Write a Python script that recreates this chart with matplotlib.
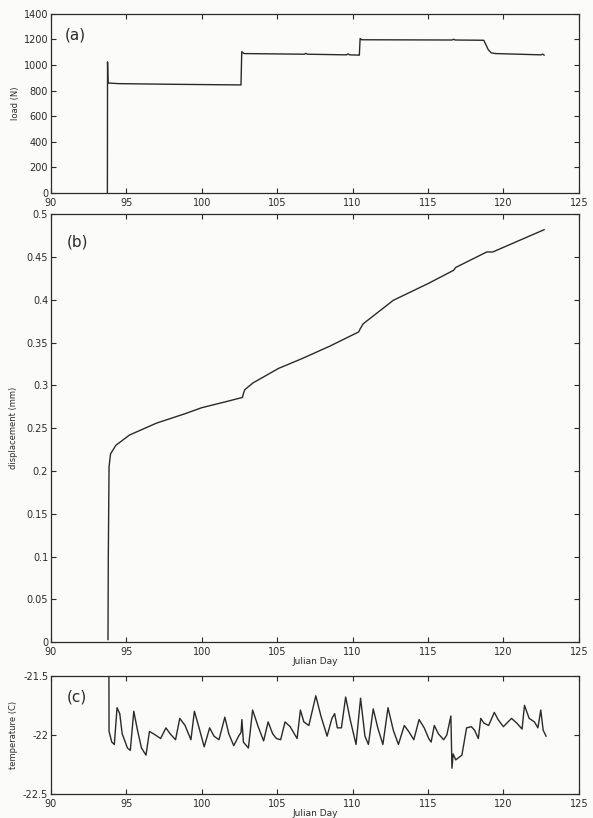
import matplotlib
matplotlib.use("Agg")
import matplotlib.pyplot as plt
from matplotlib.ticker import FuncFormatter

# (a) load
load_day = [93.74, 93.75, 93.78, 94.5, 98.0, 102.55, 102.6, 102.65, 102.8, 106.8, 106.9, 107.0,
            109.6, 109.7, 109.8, 110.4, 110.45, 110.5, 110.6, 116.6, 116.7, 116.8, 118.7,
            119.0, 119.2, 119.5, 122.5, 122.6, 122.7]
load_n = [0, 1025, 860, 855, 850, 845, 845, 1105, 1090, 1085, 1092, 1085,
          1080, 1088, 1080, 1078, 1078, 1208, 1198, 1196, 1202, 1196, 1194,
          1120, 1095, 1090, 1080, 1086, 1078]

# (b) displacement
disp_day = [93.78, 93.8, 93.85, 93.95, 94.3, 95.2, 97.0, 98.9, 100.0, 101.6, 102.7, 102.75,
            102.85, 103.4, 105.1, 106.6, 108.5, 110.4, 110.5, 110.7, 112.7, 115.0, 116.7,
            116.85, 118.9, 119.3, 122.7]
disp_mm = [0.003, 0.1, 0.205, 0.22, 0.230, 0.242, 0.256, 0.267, 0.274, 0.281, 0.286, 0.29,
           0.295, 0.303, 0.320, 0.331, 0.346, 0.3625, 0.366, 0.372, 0.3995, 0.419, 0.4346,
           0.438, 0.456, 0.456, 0.482]

# (c) temperature
temp_day = [93.84, 93.85, 94.03, 94.2, 94.38, 94.56, 94.72, 95.07, 95.26, 95.49, 95.72, 96.0,
            96.3, 96.53, 96.92, 97.27, 97.62, 97.9, 98.26, 98.54, 98.89, 99.28, 99.51, 99.82,
            100.16, 100.52, 100.81, 101.14, 101.53, 101.79, 102.12, 102.44, 102.6, 102.66,
            102.76, 103.09, 103.37, 103.74, 104.1, 104.4, 104.7, 104.95, 105.23, 105.52,
            105.86, 106.32, 106.54, 106.77, 107.1, 107.56, 107.9, 108.31, 108.63, 108.81,
            108.99, 109.26, 109.54, 109.84, 110.23, 110.53, 110.82, 111.05, 111.37, 111.67,
            112.01, 112.35, 112.7, 113.04, 113.43, 113.72, 114.06, 114.41, 114.75, 115.05,
            115.21, 115.42, 115.69, 116.04, 116.25, 116.52, 116.59, 116.67, 116.84, 117.25,
            117.56, 117.88, 118.09, 118.34, 118.5, 118.71, 119.02, 119.4, 119.65, 120.0,
            120.54, 120.89, 121.24, 121.4, 121.71, 122.06, 122.29, 122.48, 122.64, 122.83]
temp_c = [-21.4, -21.97, -22.06, -22.08, -21.77, -21.82, -21.99, -22.11, -22.13, -21.80, -21.95, -22.11,
          -22.17, -21.97, -22.0, -22.03, -21.94, -21.99, -22.04, -21.86, -21.92, -22.04, -21.80, -21.94,
          -22.10, -21.94, -22.01, -22.04, -21.85, -21.99, -22.09, -22.01, -21.98, -21.87,
          -22.06, -22.11, -21.79, -21.93, -22.05, -21.89, -21.99, -22.03, -22.04, -21.89,
          -21.93, -22.03, -21.79, -21.89, -21.92, -21.67, -21.84, -22.01, -21.86, -21.82,
          -21.94, -21.94, -21.68, -21.87, -22.08, -21.69, -22.01, -22.08, -21.78, -21.94,
          -22.08, -21.77, -21.96, -22.08, -21.92, -21.97, -22.04, -21.87, -21.94, -22.03,
          -22.06, -21.92, -21.99, -22.04, -22.0, -21.84, -22.28, -22.16, -22.21, -22.17,
          -21.94, -21.93, -21.96, -22.03, -21.86, -21.9, -21.92, -21.81, -21.87, -21.93,
          -21.86, -21.9, -21.95, -21.75, -21.86, -21.89, -21.94, -21.79, -21.96, -22.01]

xticks = [90, 95, 100, 105, 110, 115, 120, 125]
bg = "#fbfbfa"
ink = "#2a2a2a"

fig = plt.figure(figsize=(5.93, 8.18), dpi=100, facecolor=bg)
ax_a = fig.add_axes([0.086, 0.764, 0.890, 0.219])
ax_b = fig.add_axes([0.086, 0.215, 0.890, 0.523])
ax_c = fig.add_axes([0.086, 0.029, 0.890, 0.145])

fmt = FuncFormatter(lambda v, p: "%g" % v)

def style(ax):
    ax.set_facecolor(bg)
    ax.set_xlim(90, 125)
    ax.set_xticks(xticks)
    ax.xaxis.set_major_formatter(fmt)
    ax.yaxis.set_major_formatter(fmt)
    ax.tick_params(direction="in", top=True, right=True, length=3.5, width=0.8,
                   labelsize=7, colors=ink, pad=2)
    ax.tick_params(axis="x", pad=3.5)
    for s in ax.spines.values():
        s.set_color(ink)
        s.set_linewidth(0.9)

ax_a.plot(load_day, load_n, color=ink, lw=1.0)
style(ax_a)
ax_a.set_ylim(0, 1400)
ax_a.set_yticks(range(0, 1401, 200))
ax_a.set_ylabel("load (N)", fontsize=6, color=ink)
ax_a.yaxis.set_label_coords(-0.058, 0.5)
ax_a.text(0.027, 0.88, "(a)", transform=ax_a.transAxes, fontsize=11, color=ink, va="center")

ax_b.plot(disp_day, disp_mm, color=ink, lw=1.0)
style(ax_b)
ax_b.set_ylim(0, 0.5)
ax_b.set_yticks([i * 0.05 for i in range(11)])
ax_b.set_ylabel("displacement (mm)", fontsize=6, color=ink)
ax_b.yaxis.set_label_coords(-0.062, 0.5)
ax_b.set_xlabel("Julian Day", fontsize=6.5, color=ink, labelpad=0)
ax_b.text(0.03, 0.935, "(b)", transform=ax_b.transAxes, fontsize=11, color=ink, va="center")

ax_c.plot(temp_day, temp_c, color=ink, lw=1.0)
style(ax_c)
ax_c.set_ylim(-22.5, -21.5)
ax_c.set_yticks([-22.5, -22, -21.5])
ax_c.set_ylabel("temperature (C)", fontsize=6, color=ink)
ax_c.yaxis.set_label_coords(-0.062, 0.5)
ax_c.set_xlabel("Julian Day", fontsize=6.5, color=ink, labelpad=0)
ax_c.text(0.03, 0.82, "(c)", transform=ax_c.transAxes, fontsize=11, color=ink, va="center")

fig.savefig("out.png", dpi=100, facecolor=bg)
